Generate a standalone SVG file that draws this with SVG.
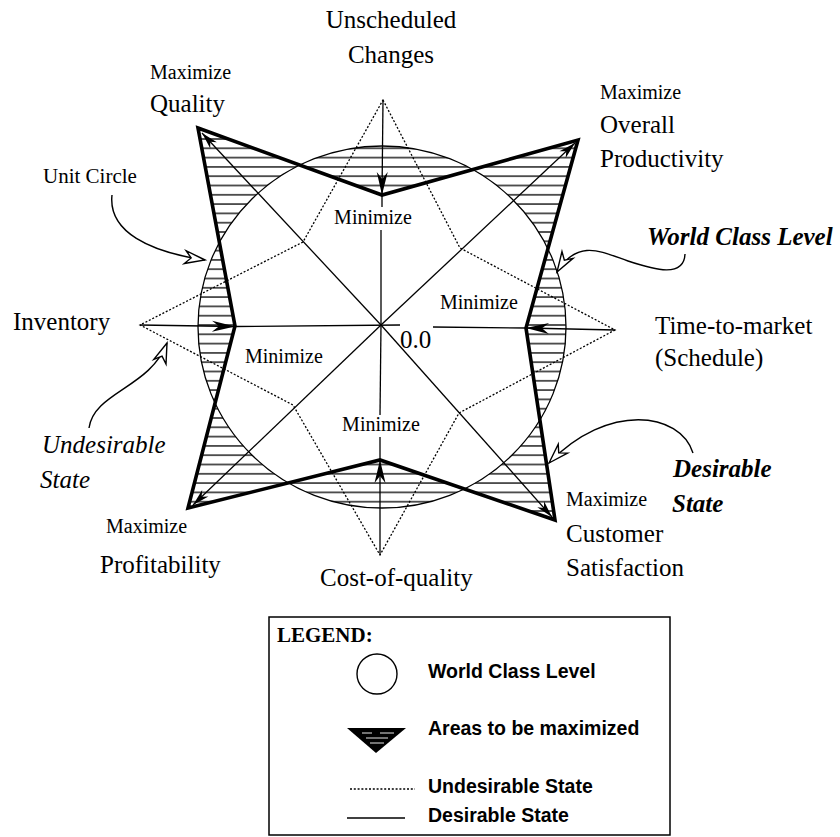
<svg xmlns="http://www.w3.org/2000/svg" width="840" height="837" viewBox="0 0 840 837">
  <style>
    .serif { font-family: "Liberation Serif", "Times New Roman", serif; fill: #000; }
    .lbl { font-size: 25px; }
    .small { font-size: 20px; }
    .note { font-size: 21px; }
    .ital { font-style: italic; font-size: 25px; }
    .bital { font-style: italic; font-weight: bold; font-size: 25px; }
    .leg { font-family: "Liberation Sans", Arial, sans-serif; font-weight: bold; font-size: 19.5px; fill: #000; }
    .legtitle { font-family: "Liberation Serif", "Times New Roman", serif; font-weight: bold; font-size: 21px; fill: #000; }
    .thin { stroke: #000; stroke-width: 1.3; fill: none; }
    .dot { stroke: #000; stroke-width: 1.3; fill: none; stroke-dasharray: 2 1.8; }
    .thick { stroke: #000; stroke-width: 3.6; fill: none; stroke-linejoin: miter; }
    .callout { stroke: #000; stroke-width: 1.4; fill: none; }
  </style>
  <defs>
    <pattern id="hatch" patternUnits="userSpaceOnUse" x="0" y="320.35" width="20" height="9.3">
      <line x1="0" y1="4.65" x2="20" y2="4.65" stroke="#000" stroke-width="1.3"/>
    </pattern>
    <marker id="axisHead" viewBox="-24 -7 26 14" refX="0" refY="0" markerWidth="26" markerHeight="14" markerUnits="userSpaceOnUse" orient="auto">
      <path d="M0,0 L-23,-5.5 L-16,0 L-23,5.5 Z" fill="#000"/>
    </marker>
    <marker id="diagHead" viewBox="-20 -6 22 12" refX="0" refY="0" markerWidth="22" markerHeight="12" markerUnits="userSpaceOnUse" orient="auto">
      <path d="M0,0 L-17,-4.5 L-12,0 L-17,4.5 Z" fill="#000"/>
    </marker>
    <marker id="openHead" viewBox="-24 -9 27 18" refX="0" refY="0" markerWidth="27" markerHeight="18" markerUnits="userSpaceOnUse" orient="auto">
      <path d="M0,0 L-20,-6.5 L-14,0 L-20,6.5 Z" fill="#fff" stroke="#000" stroke-width="1.4" stroke-linejoin="miter"/>
    </marker>
  </defs>

  <rect width="840" height="837" fill="#fff"/>

  <!-- hatched areas: symmetric difference of unit circle and desirable star -->
  <path id="hatched-areas" fill="url(#hatch)" fill-rule="evenodd"
        d="M198,327 A184,181 0 1,0 566,327 A184,181 0 1,0 198,327 Z
           M198,128 L382,195 L578,140 L526,328 L555,520 L380,460 L188,508 L235,326 Z"/>

  <!-- unit circle (world class level) -->
  <g id="unit-circle">
    <ellipse cx="382" cy="327" rx="184" ry="181" class="thin"/>
  </g>

  <g id="connectors">
    <!-- undesirable state (dotted star) -->
    <polygon class="dot" points="383,100 460,248 615,330 459,413 380,555 293,405 140,325 303,242"/>

    <!-- axes with arrows toward the desirable state -->
    <line class="thin" x1="383" y1="100" x2="382" y2="195" marker-end="url(#axisHead)"/>
    <line class="thin" x1="382" y1="195" x2="382" y2="207"/>
    <line class="thin" x1="381" y1="230" x2="381" y2="325"/>

    <line class="thin" x1="380" y1="555" x2="380" y2="460" marker-end="url(#axisHead)"/>
    <line class="thin" x1="380" y1="460" x2="380" y2="437"/>
    <line class="thin" x1="381" y1="325" x2="380" y2="415"/>

    <line class="thin" x1="140" y1="325" x2="235" y2="326.5" marker-end="url(#axisHead)"/>
    <line class="thin" x1="235" y1="326.5" x2="400" y2="325"/>

    <line class="thin" x1="615" y1="330" x2="526" y2="328" marker-end="url(#axisHead)"/>
    <line class="thin" x1="526" y1="328" x2="433" y2="327"/>

    <!-- diagonals toward the maximize corners -->
    <line class="thin" x1="381" y1="325" x2="202" y2="133" marker-end="url(#diagHead)"/>
    <line class="thin" x1="381" y1="325" x2="575" y2="143" marker-end="url(#diagHead)"/>
    <line class="thin" x1="381" y1="325" x2="193" y2="505" marker-end="url(#diagHead)"/>
    <line class="thin" x1="381" y1="325" x2="552" y2="517" marker-end="url(#diagHead)"/>

    <!-- desirable state (thick star) -->
    <polygon class="thick" points="198,128 382,195 578,140 526,328 555,520 380,460 188,508 235,326"/>

    <!-- callout arrows -->
    <path class="callout" d="M112,195 C108,232 150,252 205,260" marker-end="url(#openHead)"/>
    <path class="callout" d="M89,428 C94,392 150,388 167,343" marker-end="url(#openHead)"/>
    <path class="callout" d="M685,254 C684,278 655,270 628,261 C602,252 578,238 557,272" marker-end="url(#openHead)"/>
    <path class="callout" d="M693,453 C680,412 608,402 549,463" marker-end="url(#openHead)"/>
  </g>

  <g id="node-unscheduled-changes">
    <text class="serif lbl" x="391" y="28" text-anchor="middle">Unscheduled</text>
    <text class="serif lbl" x="391" y="63" text-anchor="middle">Changes</text>
    <text class="serif small" x="373" y="224" text-anchor="middle">Minimize</text>
  </g>

  <g id="node-quality">
    <text class="serif small" x="150" y="79">Maximize</text>
    <text class="serif lbl" x="150" y="112">Quality</text>
  </g>

  <g id="node-productivity">
    <text class="serif small" x="600" y="99">Maximize</text>
    <text class="serif lbl" x="600" y="133">Overall</text>
    <text class="serif lbl" x="600" y="167">Productivity</text>
  </g>

  <g id="node-inventory">
    <text class="serif lbl" x="13" y="330">Inventory</text>
    <text class="serif small" x="245" y="363">Minimize</text>
  </g>

  <g id="node-time-to-market">
    <text class="serif lbl" x="655" y="334">Time-to-market</text>
    <text class="serif lbl" x="655" y="366">(Schedule)</text>
    <text class="serif small" x="440" y="309">Minimize</text>
  </g>

  <g id="node-origin">
    <text class="serif lbl" x="400" y="348">0.0</text>
  </g>

  <g id="node-cost-of-quality">
    <text class="serif small" x="381" y="431" text-anchor="middle">Minimize</text>
    <text class="serif lbl" x="320" y="586">Cost-of-quality</text>
  </g>

  <g id="node-profitability">
    <text class="serif small" x="106" y="533">Maximize</text>
    <text class="serif lbl" x="100" y="573">Profitability</text>
  </g>

  <g id="node-customer-satisfaction">
    <text class="serif small" x="566" y="506">Maximize</text>
    <text class="serif lbl" x="566" y="542">Customer</text>
    <text class="serif lbl" x="566" y="576">Satisfaction</text>
  </g>

  <g id="note-unit-circle">
    <text class="serif note" x="43" y="183">Unit Circle</text>
  </g>
  <g id="note-world-class-level">
    <text class="serif bital" x="647" y="245">World Class Level</text>
  </g>
  <g id="note-undesirable-state">
    <text class="serif ital" x="42" y="453">Undesirable</text>
    <text class="serif ital" x="40" y="488">State</text>
  </g>
  <g id="note-desirable-state">
    <text class="serif bital" x="673" y="477">Desirable</text>
    <text class="serif bital" x="672" y="512">State</text>
  </g>

  <g id="legend">
    <rect x="269" y="617" width="401" height="218" fill="none" stroke="#000" stroke-width="1.5"/>
    <text class="legtitle" x="277" y="642">LEGEND:</text>
    <circle cx="377" cy="674" r="20" fill="none" stroke="#000" stroke-width="1.4"/>
    <text class="leg" x="428" y="678">World Class Level</text>
    <polygon points="347,728 406,728 376,753" fill="#000"/>
    <line x1="362" y1="733" x2="372" y2="733" stroke="#fff" stroke-width="0.9"/>
    <line x1="380" y1="733" x2="394" y2="733" stroke="#fff" stroke-width="0.9"/>
    <line x1="366" y1="738" x2="388" y2="738" stroke="#fff" stroke-width="0.9"/>
    <line x1="370" y1="743" x2="384" y2="743" stroke="#fff" stroke-width="0.9"/>
    <text class="leg" x="428" y="735">Areas to be maximized</text>
    <line class="dot" x1="350" y1="789" x2="415" y2="789" stroke-dasharray="1.5 1.5" stroke-width="1.1"/>
    <text class="leg" x="428" y="793">Undesirable State</text>
    <line class="thin" x1="347" y1="818" x2="405" y2="818"/>
    <text class="leg" x="428" y="822">Desirable State</text>
  </g>
</svg>
